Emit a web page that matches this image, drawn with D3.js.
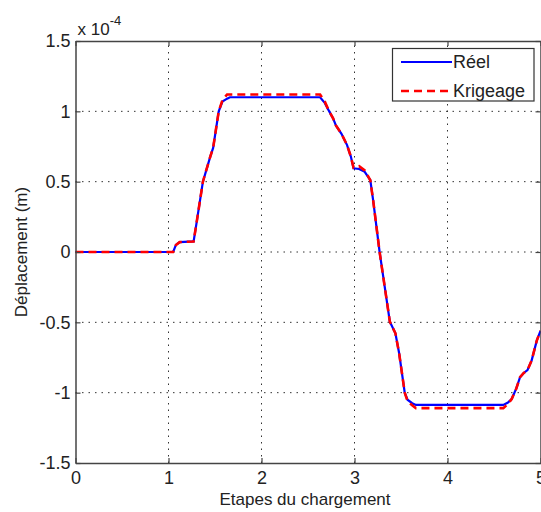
<!DOCTYPE html>
<html>
<head>
<meta charset="utf-8">
<script src="https://cdn.jsdelivr.net/npm/d3@7"></script>
<style>
  body { margin: 0; background: #fff; }
  text { font-family: "Liberation Sans", Arial, sans-serif; fill: #222; }
</style>
</head>
<body>
<div id="chart"></div>
<script>
// loading steps (x axis)
const steps = [0, 1.05, 1.08, 1.12, 1.27, 1.30, 1.37, 1.45, 1.48, 1.54, 1.58, 1.63, 1.66,
  2.63, 2.68, 2.72, 2.77, 2.80, 2.86, 2.92, 2.96, 2.99, 3.05, 3.11, 3.17, 3.20, 3.27,
  3.38, 3.44, 3.48, 3.54, 3.57, 3.62, 3.66, 4.60, 4.65, 4.69, 4.74, 4.78, 4.82, 4.86,
  4.905, 4.96, 5.0];

// displacement, in units of 1e-4 m
const reel = [0, 0, 0.05, 0.07, 0.075, 0.2, 0.5, 0.68, 0.74, 1.0, 1.07, 1.09, 1.10,
  1.10, 1.06, 1.01, 0.95, 0.90, 0.84, 0.76, 0.68, 0.595, 0.59, 0.57, 0.51, 0.37, 0,
  -0.495, -0.578, -0.72, -1.0, -1.05, -1.075, -1.087, -1.087, -1.07, -1.045, -0.97,
  -0.89, -0.86, -0.84, -0.77, -0.63, -0.56];

const krigeage = [0, 0, 0.05, 0.07, 0.075, 0.2, 0.5, 0.68, 0.74, 1.0, 1.08, 1.12, 1.12,
  1.12, 1.07, 1.01, 0.95, 0.90, 0.84, 0.76, 0.68, 0.60, 0.61, 0.58, 0.51, 0.37, 0,
  -0.495, -0.578, -0.72, -1.0, -1.06, -1.09, -1.11, -1.11, -1.08, -1.045, -0.97,
  -0.89, -0.86, -0.84, -0.77, -0.63, -0.56];

const xTicks = [0, 1, 2, 3, 4, 5];
const yTicks = [-1.5, -1, -0.5, 0, 0.5, 1, 1.5];
const legendLabels = ["Réel", "Krigeage"];

const width = 541, height = 512;
const margin = { left: 75.5, right: 0.5, top: 41, bottom: 49 };

const svg = d3.select("#chart").append("svg")
  .attr("width", width)
  .attr("height", height);

const x = d3.scaleLinear().domain([0, 5]).range([margin.left, width - margin.right]);
const y = d3.scaleLinear().domain([-1.5, 1.5]).range([height - margin.bottom, margin.top]);

// dotted grid
const grid = svg.append("g").attr("stroke", "#333").attr("stroke-width", 1)
  .attr("stroke-dasharray", "1.5,5");
grid.selectAll(".gx").data(xTicks.slice(1, -1)).join("line")
  .attr("x1", d => x(d)).attr("x2", d => x(d))
  .attr("y1", y(-1.5)).attr("y2", y(1.5));
grid.selectAll(".gy").data(yTicks.slice(1, -1)).join("line")
  .attr("x1", x(0)).attr("x2", x(5))
  .attr("y1", d => y(d)).attr("y2", d => y(d));

// curves
const line = d3.line().x((d, i) => x(steps[i])).y(d => y(d));

svg.append("path").datum(reel)
  .attr("fill", "none").attr("stroke", "#0000ff").attr("stroke-width", 2.2)
  .attr("d", line);

svg.append("path").datum(krigeage)
  .attr("fill", "none").attr("stroke", "#ff0000").attr("stroke-width", 2.6)
  .attr("stroke-dasharray", "8,5")
  .attr("d", line);

// axes with inward ticks, box
const fmt = d => String(d);
const tickLen = 5;

const xAxis = svg.append("g").attr("transform", `translate(0,${y(-1.5)})`)
  .call(d3.axisBottom(x).tickValues(xTicks).tickSizeInner(-tickLen).tickSizeOuter(0)
    .tickPadding(6).tickFormat(fmt));
const xAxisTop = svg.append("g").attr("transform", `translate(0,${y(1.5)})`)
  .call(d3.axisTop(x).tickValues(xTicks).tickSizeInner(-tickLen).tickSizeOuter(0)
    .tickFormat(""));
const yAxis = svg.append("g").attr("transform", `translate(${x(0)},0)`)
  .call(d3.axisLeft(y).tickValues(yTicks).tickSizeInner(-tickLen).tickSizeOuter(0)
    .tickPadding(5).tickFormat(fmt));
const yAxisRight = svg.append("g").attr("transform", `translate(${x(5)},0)`)
  .call(d3.axisRight(y).tickValues(yTicks).tickSizeInner(-tickLen).tickSizeOuter(0)
    .tickFormat(""));

[xAxis, xAxisTop, yAxis, yAxisRight].forEach(g => {
  g.select(".domain").attr("stroke", "#444").attr("stroke-width", 1.5);
  g.selectAll(".tick line").attr("stroke", "#444").attr("stroke-width", 1.2);
  g.selectAll(".tick text")
    .style("font-family", "'Liberation Sans', Arial, sans-serif")
    .style("font-size", "18px").attr("fill", "#222");
});
yAxis.selectAll(".tick text").attr("dy", "0.32em");
xAxis.selectAll(".tick text").attr("dy", "0.85em");

// exponent
const expo = svg.append("text").attr("x", x(0) + 2).attr("y", 35).style("font-size", "17px");
expo.append("tspan").text("x 10");
expo.append("tspan").attr("dy", -10).style("font-size", "13px").text("-4");

// axis labels
svg.append("text")
  .attr("x", (x(0) + x(5)) / 2 - 3).attr("y", 505)
  .attr("text-anchor", "middle").style("font-size", "17px")
  .text("Etapes du chargement");

svg.append("text")
  .attr("transform", `translate(27,${y(0)}) rotate(-90)`)
  .attr("text-anchor", "middle").style("font-size", "17px")
  .text("Déplacement (m)");

// legend
const leg = svg.append("g");
leg.append("rect")
  .attr("x", 392.5).attr("y", 48.5).attr("width", 141.5).attr("height", 52.5)
  .attr("fill", "#fff").attr("stroke", "#333").attr("stroke-width", 1.2);

const legStyles = [
  { color: "#0000ff", dash: null, w: 2.2 },
  { color: "#ff0000", dash: "8,5", w: 2.6 }
];
legendLabels.forEach((lab, i) => {
  const ly = 62 + i * 29;
  leg.append("line")
    .attr("x1", 401).attr("x2", 452).attr("y1", ly).attr("y2", ly)
    .attr("stroke", legStyles[i].color).attr("stroke-width", legStyles[i].w)
    .attr("stroke-dasharray", legStyles[i].dash);
  leg.append("text").attr("x", 453).attr("y", ly).attr("dy", "0.35em")
    .style("font-size", "18px").text(lab);
});
</script>
</body>
</html>
